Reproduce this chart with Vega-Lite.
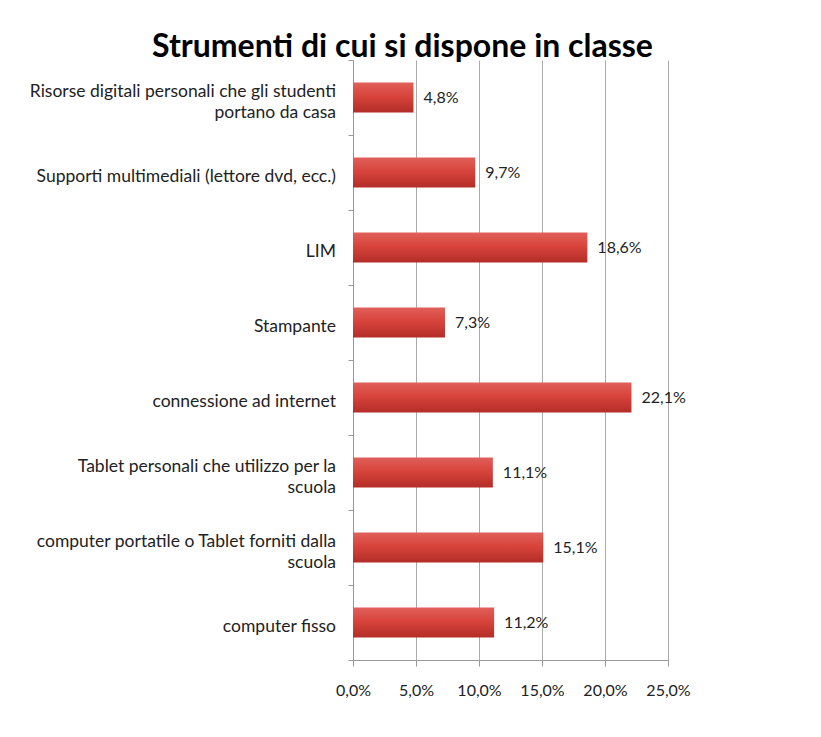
{
  "$schema": "https://vega.github.io/schema/vega-lite/v6.json",
  "autosize": "none",
  "width": 315,
  "height": 600,
  "padding": {"left": 353, "top": 60, "right": 153, "bottom": 77},
  "background": "white",
  "config": {
    "locale": {"number": {"decimal": ",", "thousands": ".", "grouping": [3], "currency": ["€", ""]}},
    "view": {"stroke": null},
    "font": "Lato"
  },
  "title": {
    "text": "Strumenti di cui si dispone in classe",
    "font": "Lato",
    "fontSize": 32,
    "fontWeight": "bold",
    "color": "#000000",
    "anchor": "middle",
    "baseline": "alphabetic",
    "offset": -29,
    "dx": -108
  },
  "data": {
    "values": [
      {"cat": "Risorse digitali personali che gli studenti|portano da casa", "v": 0.048},
      {"cat": "Supporti multimediali (lettore dvd, ecc.)", "v": 0.097},
      {"cat": "LIM", "v": 0.186},
      {"cat": "Stampante", "v": 0.073},
      {"cat": "connessione ad internet", "v": 0.221},
      {"cat": "Tablet personali che utilizzo per la|scuola", "v": 0.111},
      {"cat": "computer portatile o Tablet forniti dalla|scuola", "v": 0.151},
      {"cat": "computer fisso", "v": 0.112}
    ]
  },
  "encoding": {
    "y": {
      "field": "cat",
      "type": "nominal",
      "sort": null,
      "scale": {"paddingInner": 0, "paddingOuter": 0},
      "axis": {
        "title": null,
        "labels": false,
        "tickBand": "extent",
        "tickSize": 5,
        "tickColor": "#999999",
        "domainColor": "#999999",
        "grid": false
      }
    }
  },
  "layer": [
    {
      "mark": {
        "type": "bar",
        "height": {"band": 0.4},
        "fill": {
          "gradient": "linear",
          "x1": 0, "y1": 0, "x2": 0, "y2": 1,
          "stops": [
            {"offset": 0, "color": "#e0605a"},
            {"offset": 0.45, "color": "#d8443c"},
            {"offset": 1, "color": "#b32d27"}
          ]
        }
      },
      "encoding": {
        "x": {
          "field": "v",
          "type": "quantitative",
          "scale": {"domain": [0, 0.25], "nice": false},
          "axis": {
            "title": null,
            "format": ".1%",
            "values": [0, 0.05, 0.1, 0.15, 0.2, 0.25],
            "labelOverlap": false,
            "labelFlush": false,
            "labelFont": "Lato",
            "labelFontSize": 16,
            "labelColor": "#222222",
            "labelPadding": 16,
            "tickSize": 6,
            "tickColor": "#999999",
            "domainColor": "#999999",
            "grid": true,
            "gridColor": "#aaaaaa"
          }
        }
      }
    },
    {
      "mark": {"type": "text", "align": "left", "baseline": "middle", "dx": 10, "fontSize": 16, "font": "Lato", "color": "#222222"},
      "encoding": {
        "x": {"field": "v", "type": "quantitative"},
        "text": {"field": "v", "type": "quantitative", "format": ".1%"}
      }
    },
    {
      "transform": [{"filter": "indexof(datum.cat, '|') >= 0"}],
      "mark": {"type": "text", "align": "right", "baseline": "middle", "dx": -17, "dy": -6, "lineBreak": "|", "lineHeight": 21, "fontSize": 17.5, "font": "Lato", "color": "#222222"},
      "encoding": {
        "x": {"datum": 0, "type": "quantitative"},
        "text": {"field": "cat", "type": "nominal"}
      }
    },
    {
      "transform": [{"filter": "indexof(datum.cat, '|') < 0"}],
      "mark": {"type": "text", "align": "right", "baseline": "middle", "dx": -17, "dy": 4, "fontSize": 17.5, "font": "Lato", "color": "#222222"},
      "encoding": {
        "x": {"datum": 0, "type": "quantitative"},
        "text": {"field": "cat", "type": "nominal"}
      }
    }
  ]
}
